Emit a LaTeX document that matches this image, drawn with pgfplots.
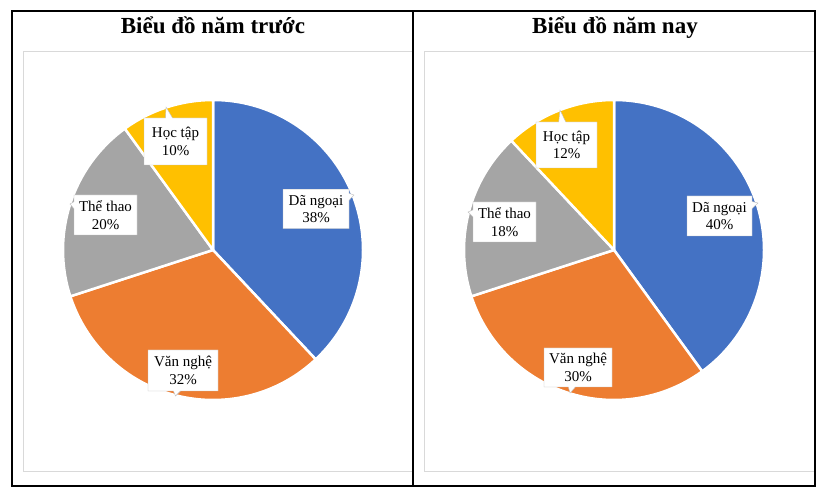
\documentclass[border=0pt]{standalone}
\usepackage{fontspec}
\setmainfont{Liberation Serif}
\usepackage{pgfplots}
\usepackage{pgfplotstable}
\pgfplotsset{compat=1.18}
\usetikzlibrary{shapes.callouts}

\definecolor{cblue}{HTML}{4472C4}
\definecolor{corange}{HTML}{ED7D31}
\definecolor{cgray}{HTML}{A5A5A5}
\definecolor{cyellow}{HTML}{FFC000}
\definecolor{framegray}{HTML}{D9D9D9}
\definecolor{lblgray}{HTML}{BFBFBF}

% share in %, slice colour, label box centre (lx,ly), box size (w,h) and
% pointer tip (px,py); positions in pixels measured from the top left corner
\pgfplotstableread[col sep=comma]{
name,value,colour,lx,ly,w,h,px,py
Dã ngoại,38,cblue,316,209,66,39.5,354,195
Văn nghệ,32,corange,183,370.5,70,41,175.5,396
Thể thao,20,cgray,105.5,215,63,40,70,204
Học tập,10,cyellow,175.5,141.5,63,47,166,107
}\lastyear

\pgfplotstableread[col sep=comma]{
name,value,colour,lx,ly,w,h,px,py
Dã ngoại,40,cblue,719.5,216,65,40,758,203
Văn nghệ,30,corange,578,367.5,68,39,570,393
Thể thao,18,cgray,504.5,222,63,40,468,212
Học tập,12,cyellow,566.5,145,61,46,560,110
}\thisyear

\tikzset{lbl/.style={rectangle callout, draw=lblgray, fill=white, align=center,
  font=\fontsize{15}{17.5}\selectfont, inner xsep=4pt, inner ysep=4pt,
  callout pointer width=7pt}}

% #1 table, #2 centre x, #3 centre y (pixels from top)
\newcommand\drawpie[3]{%
  \pgfmathsetmacro\cy{494-#3}%
  \gdef\acc{90}%
  \foreach \i in {0,...,3}{%
    \pgfplotstablegetelem{\i}{value}\of#1\let\v\pgfplotsretval
    \pgfplotstablegetelem{\i}{colour}\of#1\let\c\pgfplotsretval
    \pgfmathsetmacro\b{\acc-3.6*\v}%
    \edef\temp{\noexpand\fill[\c,draw=white,line width=2.5pt,line join=round]
      (axis cs:#2,\cy) -- ++(\acc:150pt)
      arc[start angle=\acc,end angle=\b,radius=150pt] -- cycle;}%
    \temp
    \xdef\acc{\b}%
  }%
  \foreach \i in {0,...,3}{%
    \pgfplotstablegetelem{\i}{name}\of#1\let\nm\pgfplotsretval
    \pgfplotstablegetelem{\i}{value}\of#1\let\v\pgfplotsretval
    \pgfplotstablegetelem{\i}{lx}\of#1\let\lx\pgfplotsretval
    \pgfplotstablegetelem{\i}{ly}\of#1\pgfmathsetmacro\ly{494-\pgfplotsretval}%
    \pgfplotstablegetelem{\i}{w}\of#1\let\w\pgfplotsretval
    \pgfplotstablegetelem{\i}{h}\of#1\let\h\pgfplotsretval
    \pgfplotstablegetelem{\i}{px}\of#1\let\px\pgfplotsretval
    \pgfplotstablegetelem{\i}{py}\of#1\pgfmathsetmacro\py{494-\pgfplotsretval}%
    \edef\temp{\noexpand\node[lbl,minimum width=\w pt,minimum height=\h pt,
      callout absolute pointer={(axis cs:\px,\py)}]
      at (axis cs:\lx,\ly) {\nm\noexpand\\\v\noexpand\%};}%
    \temp
  }%
}

\begin{document}
\begin{tikzpicture}
\begin{axis}[x=1pt, y=1pt, xmin=0, xmax=830, ymin=0, ymax=494,
  hide axis, clip=false, anchor=origin]
  \path (axis cs:0,0) rectangle (axis cs:830,494);
  % chart areas
  \draw[framegray, line width=1pt] (axis cs:23,442) rectangle (axis cs:413,22);
  \draw[framegray, line width=1pt] (axis cs:424,442) rectangle (axis cs:814,22);
  % table frame
  \draw[black, line width=1.2pt] (axis cs:12,483) rectangle (axis cs:815,8);
  \draw[black, line width=1.2pt] (axis cs:413,483) -- (axis cs:413,8);
  % titles
  \node[font=\bfseries\fontsize{23}{26}\selectfont, anchor=base]
    at (axis cs:213,460) {Biểu đồ năm trước};
  \node[font=\bfseries\fontsize{23}{26}\selectfont, anchor=base]
    at (axis cs:615,460) {Biểu đồ năm nay};
  \drawpie{\lastyear}{213}{250}
  \drawpie{\thisyear}{614}{250}
\end{axis}
\end{tikzpicture}
\end{document}
